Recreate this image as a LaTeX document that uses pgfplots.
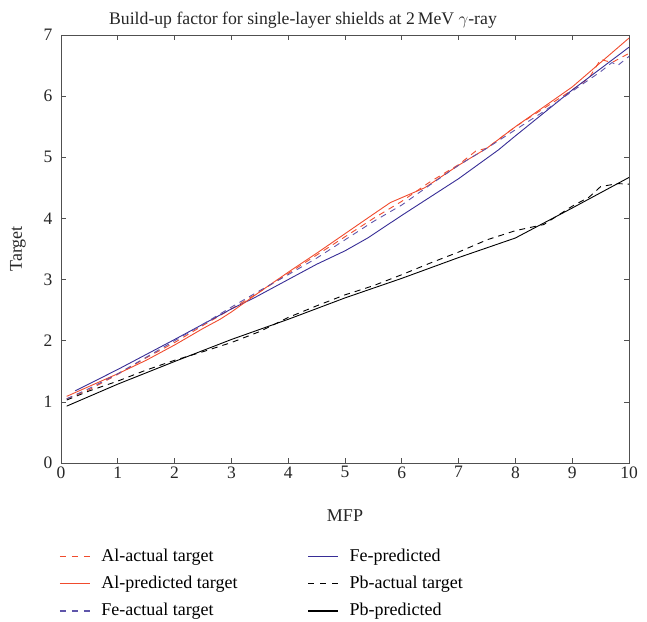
\documentclass[border=0pt]{standalone}
\usepackage{pgfplots}
\pgfplotsset{compat=1.18}
\usepackage{fontspec}
\setmainfont{Liberation Serif}
\definecolor{alred}{RGB}{240,75,45}
\definecolor{febluesolid}{RGB}{55,45,150}
\definecolor{febluedash}{RGB}{95,85,170}
\definecolor{axgray}{RGB}{80,80,80}
\newcommand{\lgs}[1]{\tikz[baseline=-0.6ex]\draw[line width=1.1pt,#1] (0pt,0pt) -- (30pt,0pt);\hspace*{11pt}}
\begin{document}
\begin{tikzpicture}
\begin{axis}[
  name=ax,
  scale only axis, width=568pt, height=428pt,
  xmin=0, xmax=10, ymin=0, ymax=7,
  xtick={0,1,...,10}, ytick={0,1,...,7},
  tick align=inside, tick pos=both,
  major tick length=5pt,
  axis line style={axgray, line width=0.9pt},
  every tick/.style={axgray, line width=0.7pt},
  /pgf/number format/assume math mode=true,
  tick label style={font=\fontsize{17.5}{20}\selectfont, text=black!85},
  yticklabel style={xshift=-5pt},
  label style={font=\fontsize{18}{21}\selectfont, text=black!85},
  title style={font=\fontsize{17.7}{22}\selectfont, text=black!85, yshift=-3pt, xshift=-42pt},
  title={Build-up factor for single-layer shields at 2\,MeV $\gamma$-ray},
  xlabel={MFP}, ylabel={Target},
  xlabel style={yshift=-25pt},
  ylabel style={yshift=11pt},
  legend columns=2,
  legend style={draw=none, at={(-0.012,-0.19)}, anchor=north west,
    font=\fontsize{18}{21}\selectfont,
    /tikz/column 1/.style={column sep=0pt},
    /tikz/column 2/.style={column sep=66pt},
    /tikz/column 3/.style={column sep=0pt},
    row sep=9.5pt},
  legend cell align=left,
  legend image code/.code={},
]
% Al-actual
\addplot[alred, line width=0.9pt, dash pattern=on 6pt off 5pt] coordinates {
(0.1,1.05)(0.5,1.2)(1,1.45)(1.5,1.72)(2,1.97)(2.5,2.25)(3,2.52)(3.5,2.8)(4,3.1)(4.5,3.4)(5,3.7)(5.5,4.0)(6,4.28)(6.5,4.6)(7,4.88)(7.3,5.1)(7.5,5.15)(8,5.5)(8.5,5.8)(9,6.1)(9.3,6.3)(9.5,6.6)(9.7,6.55)(10,6.7)};
\addlegendentry{\lgs{alred,dash pattern=on 6pt off 6pt}Al-actual target}
% Fe-predicted
\addplot[febluesolid, line width=0.9pt] coordinates {
(0.25,1.18)(1,1.53)(2,2.02)(3,2.52)(3.4,2.7)(4,3.0)(4.5,3.25)(5,3.47)(5.4,3.68)(6,4.05)(6.5,4.35)(7,4.65)(7.7,5.12)(8,5.35)(9,6.1)(10,6.8)};
\addlegendentry{\lgs{febluesolid,solid}Fe-predicted}
% Al-predicted
\addplot[alred, line width=0.9pt] coordinates {
(0.1,1.09)(1,1.46)(1.5,1.68)(2,1.93)(2.5,2.2)(2.8,2.35)(3,2.47)(3.5,2.8)(4,3.12)(4.5,3.43)(5,3.75)(5.5,4.07)(5.8,4.26)(6.4,4.5)(7,4.87)(7.5,5.15)(8,5.5)(9,6.15)(10,6.95)};
\addlegendentry{\lgs{alred,solid}Al-predicted target}
% Pb-actual
\addplot[black, line width=0.9pt, dash pattern=on 6pt off 5pt] coordinates {
(0.1,1.03)(0.5,1.18)(1,1.34)(1.5,1.52)(2,1.68)(2.5,1.82)(3,1.97)(3.5,2.15)(4,2.38)(4.5,2.57)(5,2.75)(5.5,2.9)(6,3.08)(6.5,3.27)(7,3.45)(7.5,3.65)(8,3.8)(8.5,3.9)(9,4.2)(9.3,4.35)(9.5,4.52)(9.8,4.57)(10,4.56)};
\addlegendentry{\lgs{black,dash pattern=on 6pt off 6pt}Pb-actual target}
% Fe-actual
\addplot[febluedash, line width=0.9pt, dash pattern=on 6pt off 5pt] coordinates {
(0.1,1.05)(0.5,1.22)(1,1.46)(1.5,1.73)(2,2.0)(2.5,2.27)(3,2.55)(3.5,2.82)(4,3.08)(4.5,3.35)(5,3.65)(5.5,3.95)(6,4.22)(6.5,4.55)(7,4.87)(7.5,5.15)(8,5.45)(8.5,5.75)(9,6.08)(9.5,6.4)(9.7,6.55)(9.8,6.5)(10,6.65)};
\addlegendentry{\lgs{febluedash,dash pattern=on 6pt off 6pt}Fe-actual target}
% Pb-predicted
\addplot[black, line width=0.9pt] coordinates {
(0.1,0.93)(1,1.29)(2,1.66)(3,2.02)(4,2.35)(5,2.7)(6,3.02)(6.5,3.19)(7,3.36)(8,3.68)(9,4.17)(10,4.67)};
\addlegendentry{\lgs{black,solid}Pb-predicted}
\end{axis}
\path (ax.south west) ++(-61pt,-159pt) coordinate (bl);
\path (ax.north east) ++(18pt,35pt) coordinate (tr);
\path (bl) rectangle (tr);
\end{tikzpicture}
\end{document}
